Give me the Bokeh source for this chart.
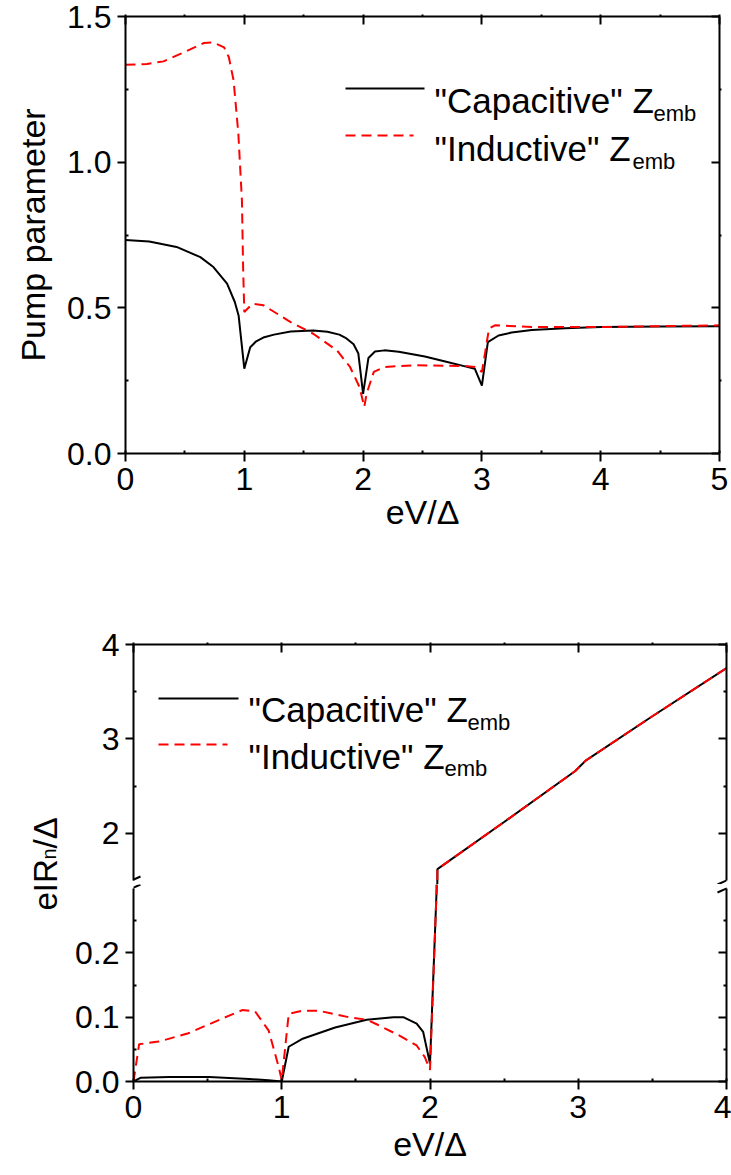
import math
from bokeh.plotting import figure
from bokeh.models import (Range1d, LinearAxis, FixedTicker, SingleIntervalTicker,
                          NumeralTickFormatter, Label, Arrow)
from bokeh.layouts import column, row
from bokeh.embed import file_html
from bokeh.resources import INLINE

FONT = "Liberation Sans"

# ---------------- top panel: pump parameter vs eV/Delta ----------------
pump_x_cap = [0.0, 0.2, 0.43, 0.63, 0.74, 0.855, 0.92, 0.952, 1.0, 1.05, 1.1, 1.16,
              1.25, 1.39, 1.58, 1.7, 1.8, 1.86, 1.92, 1.96, 2.0, 2.045, 2.1, 2.18,
              2.3, 2.52, 2.7, 2.85, 2.94, 3.0, 3.05, 3.14, 3.25, 3.42, 3.7, 4.0, 4.5, 5.0]
pump_cap = [0.733, 0.728, 0.709, 0.674, 0.64, 0.583, 0.52, 0.474, 0.291, 0.365, 0.385, 0.398,
            0.408, 0.419, 0.422, 0.418, 0.408, 0.395, 0.375, 0.343, 0.205, 0.328, 0.35, 0.354,
            0.349, 0.333, 0.315, 0.300, 0.291, 0.233, 0.382, 0.405, 0.415, 0.424, 0.430, 0.434, 0.436, 0.437]

pump_x_ind = [0.0, 0.18, 0.32, 0.49, 0.66, 0.74, 0.83, 0.87, 0.91, 0.95, 0.98, 0.99, 1.0,
              1.07, 1.16, 1.39, 1.58, 1.78, 1.89, 1.97, 2.01, 2.03, 2.09, 2.18, 2.44, 2.86,
              2.94, 3.0, 3.03, 3.06, 3.11, 3.42, 4.0, 5.0]
pump_ind = [1.334, 1.337, 1.346, 1.377, 1.409, 1.411, 1.394, 1.36, 1.28, 1.097, 0.869, 0.64, 0.486,
            0.514, 0.509, 0.451, 0.411, 0.354, 0.297, 0.228, 0.16, 0.206, 0.28, 0.297, 0.303, 0.30,
            0.297, 0.28, 0.354, 0.429, 0.44, 0.434, 0.434, 0.44]

# ---------------- bottom panel: eIRn/Delta vs eV/Delta (broken axis) ----------------
iv_x_cap = [0.0, 0.05, 0.24, 0.51, 0.78, 0.91, 1.0, 1.047, 1.136, 1.36, 1.573, 1.753, 1.82,
            1.91, 1.954, 2.0, 2.045, 2.05, 2.5, 2.98, 3.05, 3.5, 4.0]
iv_cap = [0.0, 0.006, 0.007, 0.007, 0.004, 0.002, 0.0, 0.054, 0.066, 0.084, 0.096, 0.1, 0.1,
          0.09, 0.077, 0.028, 0.30, 1.62, 2.12, 2.66, 2.77, 3.24, 3.75]

iv_x_ind = [0.0, 0.038, 0.17, 0.37, 0.58, 0.733, 0.82, 0.912, 0.98, 1.0, 1.047, 1.136, 1.25,
            1.45, 1.573, 1.64, 1.797, 1.91, 1.965, 2.0, 2.045, 2.05, 2.5, 2.98, 3.05, 3.5, 4.0]
iv_ind = [0.0, 0.058, 0.062, 0.075, 0.096, 0.111, 0.109, 0.079, 0.022, 0.002, 0.105, 0.11, 0.11,
          0.1, 0.096, 0.089, 0.071, 0.056, 0.038, 0.018, 0.30, 1.62, 2.12, 2.66, 2.77, 3.24, 3.75]

series_names = ['"Capacitive" Z', '"Inductive" Z']
sub_text = "emb"
x_title = "eV/Δ"

top_y_ticks = [0.0, 0.5, 1.0, 1.5]
top_y_minor = [0.25, 0.75, 1.25]
low_y_ticks = [0.0, 0.1, 0.2]
low_y_minor = [0.05, 0.15, 0.25]
low_y_span = (0.0, 0.3)
up_y_ticks = [2, 3, 4]
up_y_minor = [2.5, 3.5]
up_y_span = (1.5, 4.0)

DASH = "10 6"
TICK_FS = "32px"
AXLAB_FS = "34px"


def style(ax, major_in, major_out, minor_in, minor_out, labels=True):
    ax.axis_line_width = 2
    ax.axis_line_color = "black"
    ax.major_tick_line_width = 2
    ax.minor_tick_line_width = 2
    ax.major_tick_line_color = "black"
    ax.minor_tick_line_color = "black"
    ax.major_tick_in = major_in
    ax.major_tick_out = major_out
    ax.minor_tick_in = minor_in
    ax.minor_tick_out = minor_out
    ax.major_label_text_font = FONT
    if labels:
        ax.major_label_text_color = "black"
        ax.major_label_text_font_size = TICK_FS
        ax.major_label_standoff = 6
    else:
        ax.major_label_text_color = None
        ax.major_label_text_font_size = "0px"
        ax.major_label_standoff = 0
    ax.axis_label_text_font = FONT
    ax.axis_label_text_font_style = "normal"
    ax.axis_label_text_font_size = AXLAB_FS
    ax.axis_label_text_color = "black"


def clean(p):
    p.xgrid.visible = False
    p.ygrid.visible = False
    p.outline_line_color = None
    p.background_fill_color = "white"
    p.border_fill_color = "white"


def legend(p, x0, yline, xtext, ybase, emb_x, emb_base, idx, color, dash, xend):
    p.add_layout(Arrow(end=None, x_start=x0, y_start=yline, x_end=xend, y_end=yline,
                       start_units="canvas", end_units="canvas",
                       line_color=color, line_width=2, line_dash=dash))
    p.add_layout(Label(x=xtext, y=ybase, x_units="canvas", y_units="canvas",
                       text=series_names[idx], text_font=FONT, text_font_size="35px",
                       text_baseline="alphabetic", text_align="left", text_color="black"))
    p.add_layout(Label(x=emb_x, y=emb_base, x_units="canvas", y_units="canvas",
                       text=sub_text, text_font=FONT, text_font_size="22px",
                       text_baseline="alphabetic", text_align="left", text_color="black"))


# ======================= TOP FIGURE =======================
top = figure(width=731, height=608, x_range=Range1d(0, 5), y_range=Range1d(0, 1.5),
             output_backend="svg", toolbar_location=None,
             min_border_left=125, min_border_right=12, min_border_top=16, min_border_bottom=155)
clean(top)
top.xaxis[0].ticker = SingleIntervalTicker(interval=1, num_minor_ticks=2)
top.xaxis[0].formatter = NumeralTickFormatter(format="0")
top.xaxis[0].axis_label = x_title
style(top.xaxis[0], 0, 8, 3, 0)
top.xaxis[0].axis_label_standoff = 0
top.yaxis[0].ticker = FixedTicker(ticks=top_y_ticks, minor_ticks=top_y_minor)
top.yaxis[0].formatter = NumeralTickFormatter(format="0.0")
top.yaxis[0].axis_label = "Pump parameter"
style(top.yaxis[0], 0, 8, 3, 0)
top.yaxis[0].axis_label_standoff = 12

ax_t = LinearAxis(ticker=SingleIntervalTicker(interval=1, num_minor_ticks=2))
style(ax_t, 8, 0, 0, 2, labels=False)
top.add_layout(ax_t, "above")
ax_r = LinearAxis(ticker=FixedTicker(ticks=top_y_ticks, minor_ticks=top_y_minor))
style(ax_r, 8, 0, 0, 2, labels=False)
top.add_layout(ax_r, "right")

top.line(pump_x_cap, pump_cap, line_color="black", line_width=2)
top.line(pump_x_ind, pump_ind, line_color="red", line_width=2, line_dash=DASH)

legend(top, 345, 88, 434, 100, 653, 113, 0, "black", "solid", 424)
legend(top, 345, 135, 434, 148, 632, 161, 1, "red", DASH, 413)

# ======================= BOTTOM: label column =======================
LAB_W = 72
LAB_H = 567
lab = figure(width=LAB_W, height=LAB_H, x_range=Range1d(0, LAB_W), y_range=Range1d(0, LAB_H),
             output_backend="svg", toolbar_location=None, min_border=0,
             min_border_left=0, min_border_right=0, min_border_top=0, min_border_bottom=0,
             x_axis_location=None, y_axis_location=None)
clean(lab)
ang = math.pi / 2
lab.add_layout(Label(x=45, y=LAB_H - 302, text="eIR", angle=ang,
                     text_font=FONT, text_font_size="33px", text_baseline="alphabetic",
                     text_align="left", text_color="black"))
lab.add_layout(Label(x=48, y=LAB_H - 251, text="n", angle=ang,
                     text_font=FONT, text_font_size="20px", text_baseline="alphabetic",
                     text_align="left", text_color="black"))
lab.add_layout(Label(x=45, y=LAB_H - 240, text="/Δ", angle=ang,
                     text_font=FONT, text_font_size="33px", text_baseline="alphabetic",
                     text_align="left", text_color="black"))

xr_iv = Range1d(0, 4)
PW = 731 - LAB_W
BL = 131 - LAB_W
o = LAB_W

# pixel layout of the broken axis (page px): upper 4 -> 644, 1.5 -> 880 ; lower 0.3 -> 888, 0 -> 1081
UP_PX = (880 - 644) / (up_y_span[1] - up_y_span[0])
LO_PX = (1081 - 888) / (low_y_span[1] - low_y_span[0])
SPLIT = 884

# ======================= BOTTOM: upper segment =======================
up = figure(width=PW, height=SPLIT - 608, x_range=xr_iv,
            y_range=Range1d(up_y_span[0] - (SPLIT - 880) / UP_PX, up_y_span[1]),
            output_backend="svg", toolbar_location=None, x_axis_location=None,
            min_border_left=BL, min_border_right=5, min_border_top=36, min_border_bottom=0)
clean(up)
up.yaxis[0].ticker = FixedTicker(ticks=up_y_ticks, minor_ticks=up_y_minor)
up.yaxis[0].formatter = NumeralTickFormatter(format="0")
up.yaxis[0].bounds = up_y_span
style(up.yaxis[0], 0, 8, 3, 0)
ua_t = LinearAxis(ticker=SingleIntervalTicker(interval=1, num_minor_ticks=2))
style(ua_t, 8, 0, 0, 2, labels=False)
up.add_layout(ua_t, "above")
ua_r = LinearAxis(ticker=FixedTicker(ticks=up_y_ticks, minor_ticks=up_y_minor), bounds=up_y_span)
style(ua_r, 8, 0, 3, 0, labels=False)
up.add_layout(ua_r, "right")
up.line(iv_x_cap, iv_cap, line_color="black", line_width=2)
up.line(iv_x_ind, iv_ind, line_color="red", line_width=2, line_dash=DASH)
legend(up, 158 - o, 90, 248 - o, 101, 467 - o, 114, 0, "black", "solid", 238 - o)
legend(up, 158 - o, 136, 248 - o, 148, 444 - o, 160, 1, "red", DASH, 227 - o)
for xs, xe in ((122 - o, 140 - o), (717 - o, 735 - o)):
    up.add_layout(Arrow(end=None, x_start=xs, y_start=884 - 608, x_end=xe, y_end=876 - 608,
                        start_units="canvas", end_units="canvas",
                        line_color="black", line_width=2))

# ======================= BOTTOM: lower segment =======================
lo = figure(width=PW, height=1175 - SPLIT, x_range=xr_iv,
            y_range=Range1d(low_y_span[0], low_y_span[1] + (888 - SPLIT) / LO_PX),
            output_backend="svg", toolbar_location=None,
            min_border_left=BL, min_border_right=5, min_border_top=0, min_border_bottom=94)
clean(lo)
lo.xaxis[0].ticker = SingleIntervalTicker(interval=1, num_minor_ticks=2)
lo.xaxis[0].formatter = NumeralTickFormatter(format="0")
lo.xaxis[0].axis_label = x_title
style(lo.xaxis[0], 0, 8, 3, 0)
lo.xaxis[0].axis_label_standoff = 4
lo.yaxis[0].ticker = FixedTicker(ticks=low_y_ticks, minor_ticks=low_y_minor)
lo.yaxis[0].formatter = NumeralTickFormatter(format="0.0")
lo.yaxis[0].bounds = low_y_span
style(lo.yaxis[0], 0, 8, 3, 0)
la_r = LinearAxis(ticker=FixedTicker(ticks=low_y_ticks, minor_ticks=low_y_minor), bounds=low_y_span)
style(la_r, 8, 0, 3, 0, labels=False)
lo.add_layout(la_r, "right")
lo.line(iv_x_cap, iv_cap, line_color="black", line_width=2)
lo.line(iv_x_ind, iv_ind, line_color="red", line_width=2, line_dash=DASH)
for xs, xe in ((122 - o, 140 - o), (717 - o, 735 - o)):
    lo.add_layout(Arrow(end=None, x_start=xs, y_start=892 - SPLIT, x_end=xe, y_end=884 - SPLIT,
                        start_units="canvas", end_units="canvas",
                        line_color="black", line_width=2))

layout = column(top, row(lab, column(up, lo)))
open("out.html", "w").write(file_html(layout, INLINE))
